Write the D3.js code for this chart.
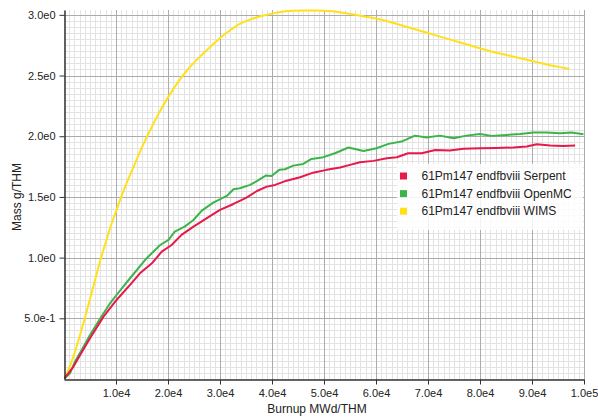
<!DOCTYPE html>
<html><head><meta charset="utf-8">
<script src="https://cdn.jsdelivr.net/npm/d3@7"></script>
<style>
body{margin:0;background:#fff;}
svg{display:block;font-family:"Liberation Sans",Arial,sans-serif;}
</style></head>
<body><svg id="c" width="598" height="418"></svg>
<script>
const seriesNames = ["61Pm147 endfbviii Serpent","61Pm147 endfbviii OpenMC","61Pm147 endfbviii WIMS"];
const seriesColors = ["#e6194b","#3cb44b","#ffe119"];

const serpentBurnup = [0,1800,3100,5000,7600,10100,12700,14600,16900,18800,20700,22600,24900,27400,30000,32600,35100,37100,39000,40600,42800,45400,47900,50500,53100,55000,56900,59500,62100,64000,66200,68800,71400,74200,76800,80000,83200,86400,89000,90900,93500,96000,98300];
const serpentMass = [0,0.10,0.198,0.335,0.514,0.651,0.775,0.871,0.953,1.049,1.104,1.187,1.255,1.324,1.393,1.442,1.495,1.549,1.585,1.599,1.634,1.662,1.70,1.723,1.742,1.764,1.786,1.797,1.819,1.827,1.86,1.86,1.887,1.882,1.896,1.901,1.904,1.907,1.915,1.934,1.923,1.92,1.923];

const openmcBurnup = [0,1150,2100,3400,5000,6900,8850,10100,12700,15900,18500,20100,21300,23200,24900,26500,28700,31300,32600,33800,35800,36900,38800,39900,41400,42500,44100,46000,47600,49600,52100,54700,57600,60100,62400,64900,67500,69700,72300,74900,77400,80000,82200,85100,87700,90300,92800,95400,97600,99900];
const openmcMass = [0,0.047,0.143,0.239,0.363,0.494,0.624,0.692,0.83,0.995,1.104,1.146,1.214,1.255,1.31,1.387,1.453,1.508,1.563,1.572,1.599,1.626,1.676,1.673,1.723,1.728,1.758,1.772,1.813,1.824,1.86,1.907,1.879,1.901,1.937,1.956,2.005,1.989,2.005,1.984,2.005,2.019,2.003,2.011,2.019,2.03,2.03,2.025,2.03,2.017];

const wimsBurnup = [0,1000,2000,3000,4000,5000,6000,7000,8000,9000,10000,11000,12000,13000,14000,15000,16000,18000,20000,22000,24000,26000,28000,30000,32000,34000,36000,38000,40000,42000,44000,46000,48000,50000,52000,54000,56000,58000,60000,62000,64000,66000,68000,70000,72000,74000,76000,78000,80000,82000,84000,86000,88000,90000,92000,94000,96000,97200];
const wimsMass = [0,0.09,0.21,0.35,0.50,0.66,0.82,0.98,1.12,1.26,1.38,1.50,1.61,1.71,1.81,1.91,2.00,2.17,2.32,2.45,2.56,2.65,2.73,2.81,2.875,2.93,2.965,2.99,3.01,3.025,3.033,3.035,3.035,3.034,3.028,3.015,3.0,2.985,2.97,2.95,2.925,2.90,2.875,2.85,2.825,2.80,2.775,2.75,2.725,2.70,2.68,2.66,2.64,2.62,2.60,2.58,2.565,2.555];

const xMajorTicks = [10000,20000,30000,40000,50000,60000,70000,80000,90000,100000];
const yMajorTicks = [0.5,1.0,1.5,2.0,2.5,3.0];
const xDomain = [0,100000];
const yDomain = [0,3.04];

const svg = d3.select("#c");
const L=64, R=584, T=10, B=379;
const x = d3.scaleLinear().domain(xDomain).range([L,R]);
const y = d3.scaleLinear().domain(yDomain).range([B,T]);

const fmt = v => d3.format(".1e")(v).replace("e+","e");

// minor grid
const g = svg.append("g");
d3.range(0,100001,1000).forEach(v=>{
  g.append("line").attr("x1",x(v)+0.5).attr("x2",x(v)+0.5).attr("y1",T).attr("y2",B)
   .attr("stroke","#e3e3e3").attr("stroke-width",1).attr("shape-rendering","crispEdges");
});
d3.range(0,3.04,0.05).forEach(v=>{
  g.append("line").attr("y1",Math.round(y(v))+0.5).attr("y2",Math.round(y(v))+0.5).attr("x1",L).attr("x2",R)
   .attr("stroke","#e3e3e3").attr("stroke-width",1).attr("shape-rendering","crispEdges");
});
// major grid
xMajorTicks.forEach(v=>{
  g.append("line").attr("x1",x(v)+0.5).attr("x2",x(v)+0.5).attr("y1",T).attr("y2",B)
   .attr("stroke","#ababab").attr("stroke-width",1).attr("shape-rendering","crispEdges");
});
yMajorTicks.forEach(v=>{
  g.append("line").attr("y1",Math.round(y(v))+0.5).attr("y2",Math.round(y(v))+0.5).attr("x1",L).attr("x2",R)
   .attr("stroke","#ababab").attr("stroke-width",1).attr("shape-rendering","crispEdges");
});

// clip
svg.append("clipPath").attr("id","clip").append("rect").attr("x",L).attr("y",T-2).attr("width",R-L).attr("height",B-T+2);

const series = [
  {b:serpentBurnup,m:serpentMass,c:seriesColors[0],curve:d3.curveLinear},
  {b:openmcBurnup,m:openmcMass,c:seriesColors[1],curve:d3.curveLinear},
  {b:wimsBurnup,m:wimsMass,c:seriesColors[2],curve:d3.curveMonotoneX}
];
const lg = svg.append("g").attr("clip-path","url(#clip)");
[2,1,0].forEach(i=>{
  const s = series[i];
  const pts = s.b.map((v,k)=>[v,s.m[k]]);
  lg.append("path").datum(pts)
    .attr("d",d3.line().x(d=>x(d[0])).y(d=>y(d[1])).curve(s.curve))
    .attr("fill","none").attr("stroke",s.c).attr("stroke-width",2).attr("stroke-linejoin","round");
});

// axes
const xAxis = d3.axisBottom(x).tickValues(xMajorTicks).tickFormat(fmt).tickSize(5).tickSizeOuter(0);
const yAxis = d3.axisLeft(y).tickValues(yMajorTicks).tickFormat(fmt).tickSize(5).tickSizeOuter(0);
const ax = svg.append("g").attr("transform",`translate(0,${B+0.5})`).call(xAxis);
const ay = svg.append("g").attr("transform",`translate(${L+0.5},0)`).call(yAxis);
[ax,ay].forEach(a=>{
  a.select(".domain").attr("stroke","#333").attr("stroke-width",1.5);
  a.selectAll(".tick line").attr("stroke","#333");
  a.selectAll(".tick text").attr("fill","#222").style("font-size","11px").style("font-family","'Liberation Sans',Arial,sans-serif");
});
ax.selectAll(".tick text").attr("dy","0.9em");
ay.selectAll(".tick text").attr("dx","-1px");

svg.append("text").attr("x",317).attr("y",413).attr("text-anchor","middle")
  .style("font-size","12px").attr("fill","#222").text("Burnup MWd/THM");
svg.append("text").attr("transform","translate(21,197) rotate(-90)").attr("text-anchor","middle")
  .style("font-size","12px").attr("fill","#222").text("Mass g/THM");

// legend
const leg = svg.append("g");
leg.append("rect").attr("x",397).attr("y",164).attr("width",186).attr("height",66)
  .attr("fill","#fff").attr("fill-opacity",0.85);
seriesNames.forEach((n,i)=>{
  const cy = 176 + i*17.6;
  leg.append("rect").attr("x",400).attr("y",cy-3.5).attr("width",7).attr("height",7).attr("fill",seriesColors[i]);
  leg.append("text").attr("x",421.5).attr("y",cy).attr("dy","0.35em").style("font-size","12px").attr("fill","#222").text(n);
});
</script></body></html>
